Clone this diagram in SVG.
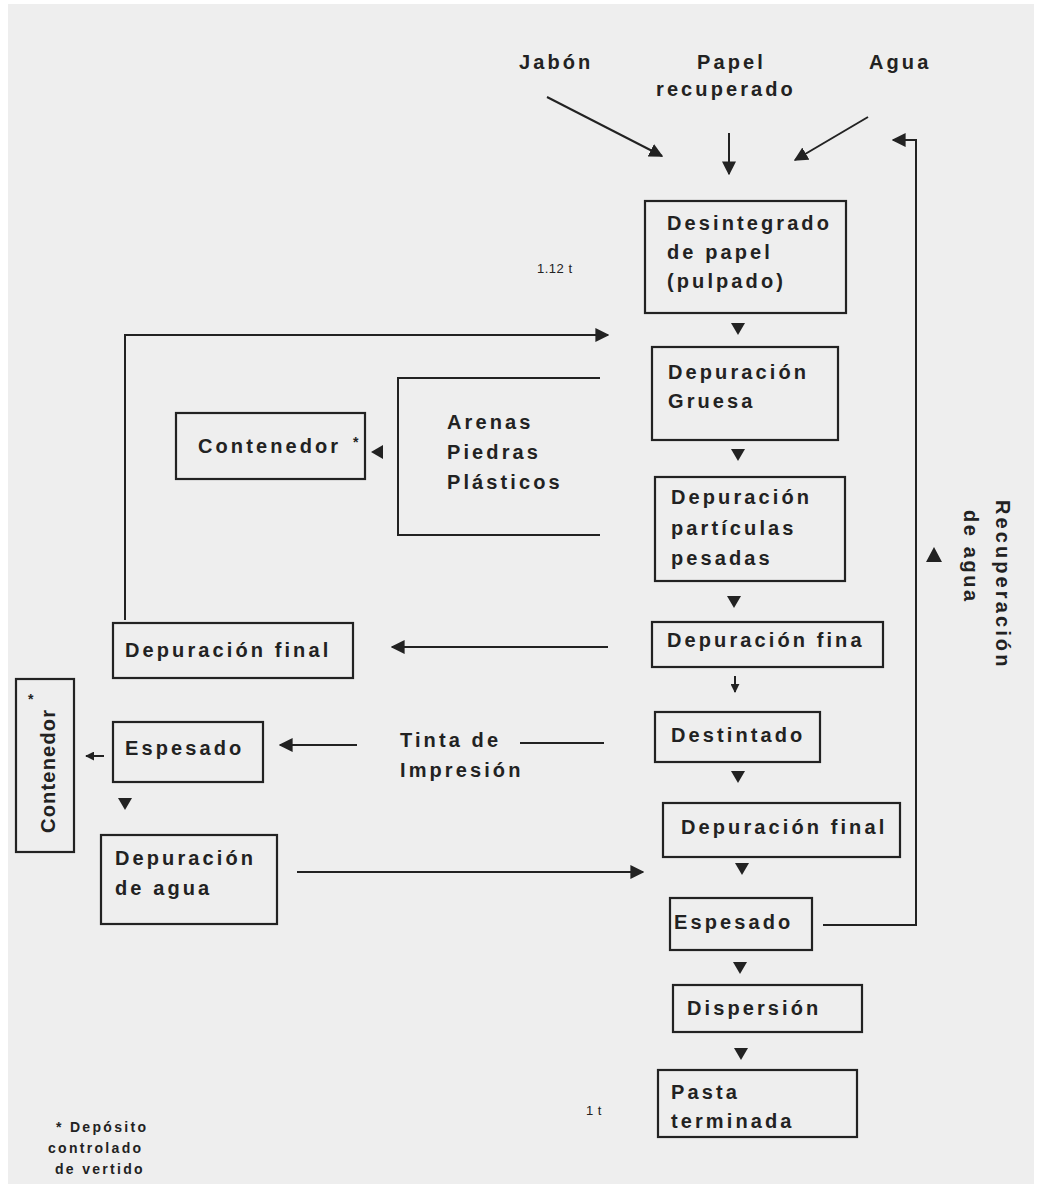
<svg xmlns="http://www.w3.org/2000/svg" width="1037" height="1184" viewBox="0 0 1037 1184">
<style>
.t{font-family:"Liberation Sans",Arial,sans-serif;font-weight:bold;font-size:20px;letter-spacing:3.1px;fill:#222}
.s{font-family:"Liberation Sans",Arial,sans-serif;font-size:13px;fill:#222;letter-spacing:0.5px}
.f{font-family:"Liberation Sans",Arial,sans-serif;font-weight:bold;font-size:14px;fill:#222;letter-spacing:2.3px}
.b{fill:none;stroke:#222;stroke-width:2.2}
.l{fill:none;stroke:#222;stroke-width:2}
.tri{fill:#222}
</style>
<defs>
<marker id="ah" viewBox="0 0 10 10" refX="9" refY="5" markerWidth="9" markerHeight="9" markerUnits="userSpaceOnUse" orient="auto"><path d="M0,0 L10,5 L0,10 z" fill="#222"/></marker>
<marker id="ah2" viewBox="0 0 10 10" refX="9" refY="5" markerWidth="14" markerHeight="14" markerUnits="userSpaceOnUse" orient="auto"><path d="M0,0 L10,5 L0,10 z" fill="#222"/></marker>
</defs>
<rect x="0" y="0" width="1037" height="1184" fill="#fff"/>
<rect x="8" y="4" width="1026" height="1180" fill="#eeeeee"/>

<g id="inputs">
<text class="t" x="519" y="69">Jabón</text>
<text class="t" x="697" y="69">Papel</text>
<text class="t" x="656" y="96">recuperado</text>
<text class="t" x="869" y="69">Agua</text>
</g>

<g id="n1"><rect class="b" x="645" y="201" width="201" height="112"/>
<text class="t" x="667" y="230">Desintegrado</text><text class="t" x="667" y="259">de  papel</text><text class="t" x="667" y="288">(pulpado)</text></g>
<text class="s" x="537" y="273">1.12 t</text>

<g id="n2"><rect class="b" x="652" y="347" width="186" height="93"/>
<text class="t" x="668" y="379">Depuración</text><text class="t" x="668" y="408">Gruesa</text></g>

<g id="n3"><rect class="b" x="655" y="477" width="190" height="104"/>
<text class="t" x="671" y="504">Depuración</text><text class="t" x="671" y="535">partículas</text><text class="t" x="671" y="565">pesadas</text></g>

<g id="n4"><rect class="b" x="652" y="622" width="231" height="45"/>
<text class="t" x="667" y="647">Depuración fina</text></g>

<g id="n5"><rect class="b" x="655" y="712" width="165" height="50"/>
<text class="t" x="671" y="742">Destintado</text></g>

<g id="n6"><rect class="b" x="663" y="803" width="237" height="54"/>
<text class="t" x="681" y="834">Depuración final</text></g>

<g id="n7"><rect class="b" x="670" y="898" width="142" height="52"/>
<text class="t" x="674" y="929">Espesado</text></g>

<g id="n8"><rect class="b" x="673" y="985" width="189" height="47"/>
<text class="t" x="687" y="1015">Dispersión</text></g>

<g id="n9"><rect class="b" x="658" y="1070" width="199" height="67"/>
<text class="t" x="671" y="1099">Pasta</text><text class="t" x="671" y="1128">terminada</text></g>
<text class="s" x="586" y="1115">1 t</text>

<g id="bracket-labels">
<text class="t" x="447" y="429">Arenas</text>
<text class="t" x="447" y="459">Piedras</text>
<text class="t" x="447" y="489">Plásticos</text>
</g>

<g id="c1"><rect class="b" x="176" y="413" width="189" height="66"/>
<text class="t" x="198" y="453">Contenedor</text><text class="f" x="353" y="447" font-size="17">*</text></g>

<g id="lf"><rect class="b" x="113" y="623" width="240" height="55"/>
<text class="t" x="125" y="657">Depuración final</text></g>

<g id="le"><rect class="b" x="113" y="722" width="150" height="60"/>
<text class="t" x="125" y="755">Espesado</text></g>

<g id="c2"><rect class="b" x="16" y="679" width="58" height="173"/>
<text class="t" style="letter-spacing:1.2px" transform="translate(55,833) rotate(-90)">Contenedor</text><text class="f" x="28" y="704" font-size="17">*</text></g>

<g id="ld"><rect class="b" x="101" y="835" width="176" height="89"/>
<text class="t" x="115" y="865">Depuración</text><text class="t" x="115" y="895">de agua</text></g>

<g id="tinta">
<text class="t" x="400" y="747">Tinta de</text>
<text class="t" x="400" y="777">Impresión</text>
</g>

<g id="recup">
<text class="t" transform="translate(996,500) rotate(90)">Recuperación</text>
<text class="t" style="letter-spacing:2.6px" transform="translate(964,510) rotate(90)">de agua</text>
</g>

<g id="footnote">
<text class="f" x="56" y="1132">* Depósito</text>
<text class="f" x="48" y="1153">controlado</text>
<text class="f" x="55" y="1174">de vertido</text>
</g>

<g id="connectors">
<line class="l" x1="547" y1="97" x2="662" y2="156" marker-end="url(#ah2)"/>
<line class="l" x1="729" y1="133" x2="729" y2="174" marker-end="url(#ah2)"/>
<line class="l" x1="868" y1="117" x2="795" y2="160" marker-end="url(#ah2)"/>
<polyline class="l" points="823,925 916,925 916,140 893,140" marker-end="url(#ah2)"/>
<path class="tri" d="M926,562 L942,562 L934,547 z"/>
<path class="tri" d="M731,323 L745,323 L738,335 z"/>
<path class="tri" d="M731,449 L745,449 L738,461 z"/>
<path class="tri" d="M727,596 L741,596 L734,608 z"/>
<line class="l" x1="735" y1="676" x2="735" y2="692" marker-end="url(#ah)"/>
<path class="tri" d="M731,771 L745,771 L738,783 z"/>
<path class="tri" d="M735,863 L749,863 L742,875 z"/>
<path class="tri" d="M733,962 L747,962 L740,974 z"/>
<path class="tri" d="M734,1048 L748,1048 L741,1060 z"/>
<polyline class="l" points="125,620 125,335 608,335" marker-end="url(#ah2)"/>
<polyline class="l" points="600,378 398,378 398,535 600,535"/>
<path class="tri" d="M371,452 L383,445 L383,459 z"/>
<line class="l" x1="608" y1="647" x2="392" y2="647" marker-end="url(#ah2)"/>
<line class="l" x1="604" y1="743" x2="520" y2="743"/>
<line class="l" x1="357" y1="745" x2="280" y2="745" marker-end="url(#ah2)"/>
<line class="l" x1="104" y1="756" x2="86" y2="756" marker-end="url(#ah)"/>
<path class="tri" d="M118,798 L132,798 L125,810 z"/>
<line class="l" x1="297" y1="872" x2="643" y2="872" marker-end="url(#ah2)"/>
</g>
</svg>
